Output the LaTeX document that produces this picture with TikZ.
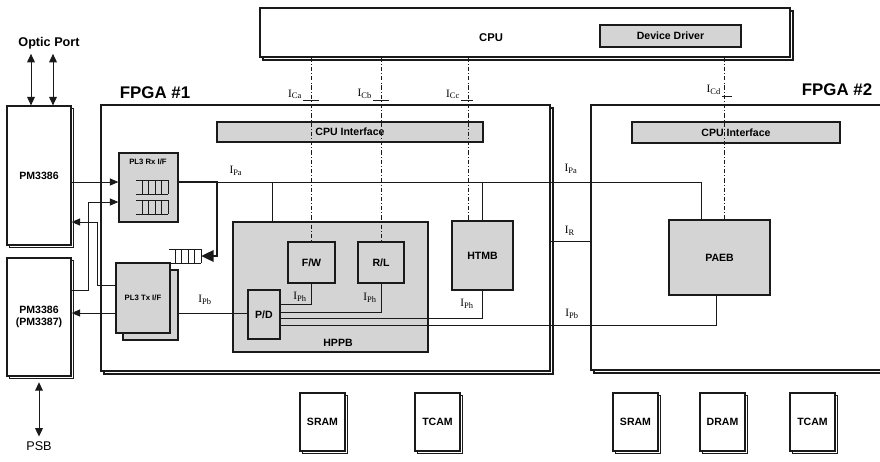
\documentclass[tikz,border=0pt]{standalone}
\usepackage{fontspec}
\setmainfont{Liberation Serif}
\setsansfont{Liberation Sans}
\usetikzlibrary{shadows,arrows.meta}
\definecolor{ink}{HTML}{1A1A1A}
\definecolor{speck}{HTML}{D4D4D4}

\tikzset{
  blk/.style={draw=ink,line width=0.9pt,inner sep=0pt,
    font=\sffamily\bfseries\fontsize{7.5}{8.5}\selectfont},
  plain/.style={blk,fill=white},
  shade/.style={blk,fill=speck},
  boxsh/.style={plain,copy shadow={shadow xshift=1.8pt,shadow yshift=-1.8pt}},
  bigsh/.style={plain,copy shadow={shadow xshift=2.2pt,shadow yshift=-2.2pt}},
  wire/.style={draw=ink,line width=0.7pt},
  fat/.style={draw=ink,line width=1.8pt},
  ctrl/.style={draw=ink,line width=0.6pt,dash pattern=on 3pt off 1.5pt on 0.6pt off 1.5pt},
  arr/.style={-{Triangle[length=6pt,width=5pt]}},
  darr/.style={{Triangle[length=6pt,width=5.5pt]}-{Triangle[length=6pt,width=5.5pt]}},
  bigarr/.style={-{Triangle[length=9pt,width=8pt]}},
  sig/.style={font=\footnotesize,inner sep=0.5pt},
  title/.style={font=\sffamily\bfseries\fontsize{12}{14}\selectfont},
  small/.style={font=\sffamily\bfseries\fontsize{5.5}{6}\selectfont},
  txt/.style={font=\sffamily\bfseries\fontsize{7.5}{8.5}\selectfont,inner sep=1pt},
}

% box from its corners: style, name, x1, y1, x2, y2, text
\newcommand\blkat[7]{%
  \node[#1,minimum width={(#5-#3)*0.025cm},minimum height={(#6-#4)*0.025cm}]
    (#2) at ({(#3+#5)/2},{(#4+#6)/2}) {#7};}

% queue glyph: left x, top y
\newcommand\fifo[2]{%
  \draw[wire] (#1,#2) -- ++(32,0) (#1,#2+14) -- ++(32,0);
  \foreach \k in {1,...,5} \draw[wire] (#1+6.4*\k,#2) -- ++(0,14);
}

\begin{document}
\begin{tikzpicture}[x=0.025cm,y=-0.025cm]
  \useasboundingbox (0,0) rectangle (880,461);

  % CPU
  \blkat{bigsh}{cpu}{260}{8}{790}{57}{}
  \node[font=\sffamily\bfseries\fontsize{8}{9}\selectfont] (cputxt) at (491,38) {CPU};
  \blkat{shade}{drv}{600}{25}{741}{47}{Device Driver}

  % line cards
  \blkat{boxsh}{pma}{7}{106}{71}{245}{PM3386}
  \blkat{boxsh,align=center}{pmb}{7}{258}{71}{376}{PM3386\\(PM3387)}
  \node[font=\sffamily\bfseries\fontsize{9}{10}\selectfont] (optic) at (49,43) {Optic Port};
  \node[font=\sffamily\fontsize{9}{10}\selectfont] (psb) at (39,446) {PSB};

  % FPGA #1
  \blkat{bigsh}{fpga1}{101}{105}{550}{371}{}
  \node[title] (f1lbl) at (155,93) {FPGA \#1};
  \blkat{shade}{cif1}{217}{122}{483}{142}{CPU Interface}
  \blkat{shade}{rx}{119}{153}{178}{222}{}
  \node[small] (rxtxt) at (148,162) {PL3 Rx I/F};
  \blkat{shade}{txb}{123}{270}{178}{340}{}
  \blkat{shade,small}{tx}{116}{263}{170}{333}{PL3 Tx I/F}
  \blkat{shade}{hppb}{233}{222}{428}{352}{}
  \node[txt] (hppbtxt) at (338,343) {HPPB};
  \blkat{shade}{fw}{288}{242}{335}{283}{F/W}
  \blkat{shade}{rl}{358}{242}{404}{283}{R/L}
  \blkat{shade}{pd}{248}{290}{280}{339}{P/D}
  \blkat{shade}{htmb}{452}{221}{513}{290}{HTMB}

  % FPGA #2
  \blkat{bigsh}{fpga2}{591}{105}{886}{370}{}
  \node[title] (f2lbl) at (837,90) {FPGA \#2};
  \blkat{shade}{cif2}{632}{122}{840}{143}{CPU Interface}
  \blkat{shade}{paeb}{669}{220}{770}{295}{PAEB}

  % memories
  \foreach \nm/\x/\txt in {sram1/300/SRAM, tcam1/415/TCAM, sram2/613/SRAM, dram/700/DRAM, tcam2/790/TCAM}
    \node[boxsh,minimum width=45*0.025cm,minimum height=58*0.025cm] (\nm) at (\x+22.5,422) {\txt};

  % queues
  \fifo{136}{180}
  \fifo{136}{200}
  \fifo{169}{249}

  % external ports
  \draw[wire,darr] (optic.south -| 31,0) -- (pma.north -| 31,0);
  \draw[wire,darr] (optic.south -| 53,0) -- (pma.north -| 53,0);
  \draw[wire,darr] ([yshift=-4pt]pmb.south) -- (psb.north);

  % receive / transmit paths
  \draw[wire,arr] (pma.east |- 0,182) -- (rx.west |- 0,182);
  \draw[wire,arr] (pmb.east |- 0,290) -- (88,290) |- (rx.west |- 0,202);
  \draw[wire,arr] (tx.west |- 0,285) -- (97,285) |- (pma.east |- 0,222);
  \draw[wire,arr] (tx.west |- 0,313) -- (pmb.east |- 0,313);
  \draw[wire] (pd.west |- 0,313) -- (txb.east |- 0,313);
  \draw[wire] (rx.east |- 0,182) -| (paeb.north -| 701,0);
  \draw[wire] (hppb.north -| 272,0) -- (272,182);
  \draw[wire] (htmb.north) -- (htmb.north |- 0,182);
  \draw[fat,bigarr] (rx.east |- 0,182) -| (217,256) -- (201,256);
  \draw[wire] (fpga1.east |- 0,241) -- (fpga2.west |- 0,241);

  % P/D fan-out
  \draw[wire] (pd.east |- 0,304) -| (fw.south);
  \draw[wire] (pd.east |- 0,312) -| (rl.south);
  \draw[wire] (pd.east |- 0,318) -| (htmb.south);
  \draw[wire] (pd.east |- 0,325) -| (paeb.south -| 716,0);

  % control from CPU
  \draw[ctrl] (cpu.south -| fw.north) -- (fw.north);
  \draw[ctrl] (cpu.south -| rl.north) -- (rl.north);
  \draw[ctrl] (cpu.south -| 468,0) -- (htmb.north -| 468,0);
  \draw[ctrl] (cpu.south -| 724,0) -- (paeb.north -| 724,0);

  % interface labels
  \node[sig,anchor=south east] (ica) at (303,100) {I\textsubscript{Ca}};
  \draw[wire,line width=0.5pt] (ica.south east) -- ++(16,0);
  \node[sig,anchor=south east] (icb) at (373,100) {I\textsubscript{Cb}};
  \draw[wire,line width=0.5pt] (icb.south east) -- ++(16,0);
  \node[sig,anchor=south east] (icc) at (461,100) {I\textsubscript{Cc}};
  \draw[wire,line width=0.5pt] (icc.south east) -- ++(12,0);
  \node[sig,anchor=south east] (icd) at (722,96) {I\textsubscript{Cd}};
  \draw[wire,line width=0.5pt] (icd.south east) -- ++(10,0);
  \node[sig] (ipa1) at (236,171) {I\textsubscript{Pa}};
  \node[sig] (ipa2) at (571,169) {I\textsubscript{Pa}};
  \node[sig] (ir) at (570,231) {I\textsubscript{R}};
  \node[sig] (ipb1) at (205,300) {I\textsubscript{Pb}};
  \node[sig] (ipb2) at (572,314) {I\textsubscript{Pb}};
  \node[sig] (iph1) at (300,297) {I\textsubscript{Ph}};
  \node[sig] (iph2) at (370,298) {I\textsubscript{Ph}};
  \node[sig] (iph3) at (467,304) {I\textsubscript{Ph}};
\end{tikzpicture}
\end{document}
